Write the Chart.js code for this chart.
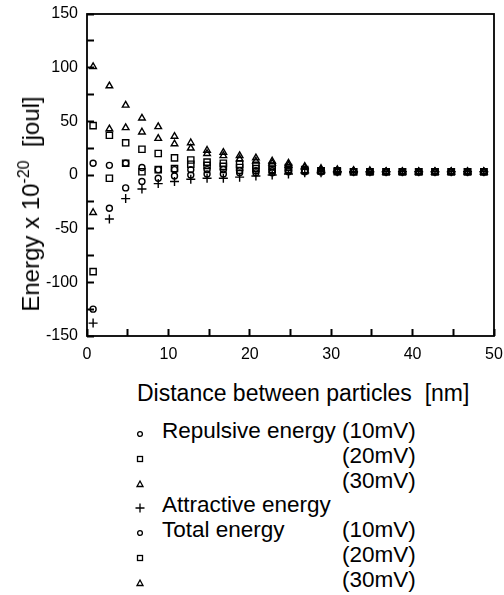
<!DOCTYPE html>
<html>
<head>
<meta charset="utf-8">
<script src="https://cdn.jsdelivr.net/npm/chart.js@4.4.1/dist/chart.umd.min.js"></script>
<style>
    body { margin: 0; background: #fff; font-family: 'Liberation Sans', Arial, sans-serif; color: #000; }
    #wrap { position: relative; width: 504px; height: 595px; }
    #chartBox { position: absolute; left: 0; top: 0; width: 504px; height: 370px; }
    .title { position: absolute; white-space: pre; line-height: 26px; }
    #yTitle { left: 31px; top: 204px; font-size: 24px; transform: translate(-50%, -50%) rotate(-90deg); }
    #yTitle sup { font-size: 16px; vertical-align: 10px; line-height: 0; }
    #xTitle { left: 137px; top: 380px; font-size: 23px; }
    .row { position: absolute; left: 0; height: 24px; font-size: 22.5px; line-height: 24px; white-space: pre; }
    .row svg { position: absolute; left: 134px; top: 9px; }
    .row .a { position: absolute; left: 162px; }
    .row .b { position: absolute; left: 342px; }
</style>
</head>
<body>
<div id="wrap">
    <div id="chartBox"><canvas id="chart"></canvas></div>
    <div class="title" id="yTitle">Energy x 10<sup>-20</sup>  [joul]</div>
    <div class="title" id="xTitle">Distance between particles  [nm]</div>
    <div id="legend"></div>
</div>
<script>
// distance [nm]
const distance = [0.75, 2.75, 4.75, 6.75, 8.75, 10.75, 12.75, 14.75, 16.75, 18.75, 20.75, 22.75, 24.75,
    26.75, 28.75, 30.75, 32.75, 34.75, 36.75, 38.75, 40.75, 42.75, 44.75, 46.75, 48.75];

// energy x 10^-20 joul
const repulsive10 = [11, 9, 11, 7, 5, 5, 5, 5, 5, 4, 4, 4, 4, 4, 3, 3, 3, 3, 3, 3, 3, 3, 3, 3, 3];
const repulsive20 = [46, 37, 30, 24, 20, 16, 14, 12, 11, 10, 9, 8, 7, 5, 4, 4, 3, 3, 3, 3, 3, 3, 3, 3, 3];
const repulsive30 = [101, 83, 65, 53, 45, 36, 30, 23, 21, 18, 16, 13, 11, 8, 6, 5, 4, 4, 3, 3, 3, 3, 3, 3, 3];
const attractive = [-138, -41, -22, -13, -8, -6, -4, -3, -3, -2, -1, 0, 1, 2, 2, 3, 3, 3, 3, 3, 3, 3, 3, 3, 3];
const total10 = [-125, -31, -12, -6, -3, -1, 0, 1, 1, 2, 2, 2, 3, 3, 3, 3, 3, 3, 3, 3, 3, 3, 3, 3, 3];
const total20 = [-90, -3, 11, 3, 5, 6, 10, 9, 8, 7, 6, 5, 5, 4, 4, 3, 3, 3, 3, 3, 3, 3, 3, 3, 3];
const total30 = [-35, 43, 44, 40, 34, 29, 25, 20, 18, 15, 13, 11, 9, 7, 5, 4, 4, 3, 3, 3, 3, 3, 3, 3, 3];

// tick marks every 5 / 25, labels every 10 / 50
const xTicks = [0, 5, 10, 15, 20, 25, 30, 35, 40, 45, 50];
const yTicks = [-150, -125, -100, -75, -50, -25, 0, 25, 50, 75, 100, 125, 150];

const legendRows = [
    ['circle', 'Repulsive energy', '(10mV)'],
    ['rect', '', '(20mV)'],
    ['triangle', '', '(30mV)'],
    ['cross', 'Attractive energy', ''],
    ['circle', 'Total energy', '(10mV)'],
    ['rect', '', '(20mV)'],
    ['triangle', '', '(30mV)']
];

function series(values, style, radius) {
    return {
        data: values.map((v, i) => ({ x: distance[i], y: v })),
        pointStyle: style,
        pointRadius: radius,
        pointBorderWidth: 1.4,
        borderColor: '#000',
        backgroundColor: 'rgba(0,0,0,0)',
        showLine: false
    };
}

// box around the plot area
const frame = {
    id: 'frame',
    afterDraw(chart) {
        const { ctx, chartArea: a } = chart;
        ctx.save();
        ctx.strokeStyle = '#000';
        ctx.lineWidth = 1.8;
        ctx.strokeRect(a.left, a.top, a.right - a.left, a.bottom - a.top);
        ctx.restore();
    }
};

function noPad(s) {
    s.paddingTop = 0;
    s.paddingBottom = 0;
    s.paddingLeft = 0;
    s.paddingRight = 0;
}

const tickFont = { family: "'Liberation Sans', Arial, sans-serif", size: 16 };
const innerTicks = { display: true, drawOnChartArea: false, drawTicks: true, tickLength: -7, tickWidth: 2, tickColor: '#000' };

new Chart(document.getElementById('chart').getContext('2d'), {
    type: 'scatter',
    data: {
        datasets: [
            series(repulsive10, 'circle', 3),
            series(repulsive20, 'rect', 4.4),
            series(repulsive30, 'triangle', 3.8),
            series(attractive, 'cross', 4.5),
            series(total10, 'circle', 3),
            series(total20, 'rect', 4.4),
            series(total30, 'triangle', 3.8)
        ]
    },
    options: {
        responsive: true,
        maintainAspectRatio: false,
        animation: false,
        layout: { padding: { top: 14, right: 10, left: 0, bottom: 0 } },
        plugins: { legend: { display: false }, tooltip: { enabled: false } },
        scales: {
            x: {
                type: 'linear',
                min: 0,
                max: 50,
                grid: innerTicks,
                border: { display: false },
                afterBuildTicks: s => { s.ticks = xTicks.map(v => ({ value: v })); },
                afterFit: s => { s.height = 34; noPad(s); },
                ticks: {
                    color: '#000', font: tickFont, padding: 16, maxRotation: 0, autoSkip: false,
                    callback: v => (v % 10 === 0 ? v : '')
                }
            },
            y: {
                min: -150,
                max: 150,
                grid: innerTicks,
                border: { display: false },
                afterBuildTicks: s => { s.ticks = yTicks.map(v => ({ value: v })); },
                afterFit: s => { s.width = 87; noPad(s); },
                ticks: {
                    color: '#000', font: tickFont, padding: 16, autoSkip: false,
                    callback: v => (v % 50 === 0 ? v : '')
                }
            }
        }
    },
    plugins: [frame]
});

// legend below the plot
function marker(style) {
    const s = 'fill="none" stroke="#000" stroke-width="1.3"';
    if (style === 'circle') return `<svg width="12" height="12"><circle cx="6" cy="6" r="2.4" ${s}/></svg>`;
    if (style === 'rect') return `<svg width="12" height="12"><rect x="3.5" y="3.5" width="5" height="5" ${s}/></svg>`;
    if (style === 'triangle') return `<svg width="12" height="12"><polygon points="6,3 9,8.5 3,8.5" ${s}/></svg>`;
    return `<svg width="12" height="12"><path d="M6 1.5V10.5M1.5 6H10.5" ${s}/></svg>`;
}

const legend = document.getElementById('legend');
legendRows.forEach((r, i) => {
    const row = document.createElement('div');
    row.className = 'row';
    row.style.top = (419 + i * 24.8) + 'px';
    row.innerHTML = marker(r[0]) + `<span class="a">${r[1]}</span><span class="b">${r[2]}</span>`;
    legend.appendChild(row);
});
</script>
</body>
</html>
